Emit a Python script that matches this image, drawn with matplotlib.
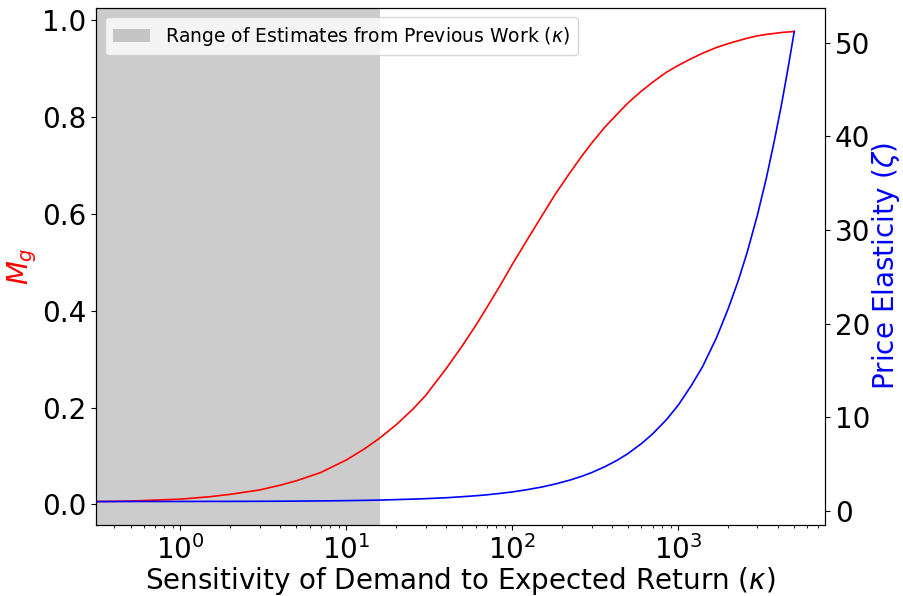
import numpy as np
import matplotlib
matplotlib.use('Agg')
import matplotlib.pyplot as plt

# sensitivity of demand to expected return (kappa)
kappa = [0.309, 0.5, 0.7, 1, 1.5, 2, 3, 4, 5, 7, 10, 13, 16, 20, 25, 30, 40, 50,
         60, 70, 85, 100, 120, 150, 180, 220, 260, 300, 360, 430, 500, 600, 700,
         850, 1000, 1200, 1400, 1700, 2000, 2300, 2600, 3000, 3400, 3800, 4200,
         4600, 5000]
# M_g (left axis)
m_g = [0.006, 0.007, 0.009, 0.011, 0.016, 0.021, 0.030, 0.040, 0.049, 0.066,
       0.092, 0.116, 0.138, 0.165, 0.196, 0.225, 0.281, 0.328, 0.369, 0.406,
       0.454, 0.496, 0.541, 0.595, 0.639, 0.683, 0.718, 0.746, 0.779, 0.807,
       0.830, 0.854, 0.872, 0.893, 0.907, 0.921, 0.932, 0.944, 0.952, 0.958,
       0.963, 0.968, 0.971, 0.973, 0.975, 0.976, 0.977]
# price elasticity zeta (right axis)
zeta = [1.00, 1.01, 1.01, 1.01, 1.02, 1.02, 1.03, 1.04, 1.05, 1.07, 1.10, 1.13,
        1.16, 1.21, 1.26, 1.31, 1.41, 1.52, 1.62, 1.72, 1.88, 2.03, 2.24, 2.55,
        2.86, 3.27, 3.68, 4.09, 4.71, 5.43, 6.15, 7.19, 8.22, 9.76, 11.3, 13.4,
        15.4, 18.5, 21.6, 24.6, 27.6, 31.6, 35.6, 39.6, 43.5, 47.4, 51.2]
# shaded range of previous estimates
shade_lo = 0.1
shade_hi = 16.0

fig = plt.figure(figsize=(9.04, 5.96), dpi=100)
ax = fig.add_axes([0.106, 0.119, 0.8066, 0.8676])

ax.axvspan(shade_lo, shade_hi, color='gray', alpha=0.4, lw=0,
           label=r'Range of Estimates from Previous Work ($\kappa$)')
ax.plot(kappa, m_g, color='red', lw=1.2)
ax.set_xscale('log')
ax.set_xlim(0.309, 7660)
ax.set_ylabel(r'$M_g$', color='red', fontsize=20, labelpad=2)
ax.set_xlabel(r'Sensitivity of Demand to Expected Return ($\kappa$)',
              fontsize=20, labelpad=0)
ax.tick_params(axis='both', which='major', labelsize=20)
ax.legend(loc='upper left', fontsize=13.5)

ax2 = ax.twinx()
ax2.plot(kappa, zeta, color='blue', lw=1.2)
ax2.set_ylabel(r'Price Elasticity ($\zeta$)', color='blue', fontsize=20,
               labelpad=0)
ax2.tick_params(axis='y', labelsize=20)
ax2.set_xlim(0.309, 7660)

fig.savefig('out.png', dpi=100)
